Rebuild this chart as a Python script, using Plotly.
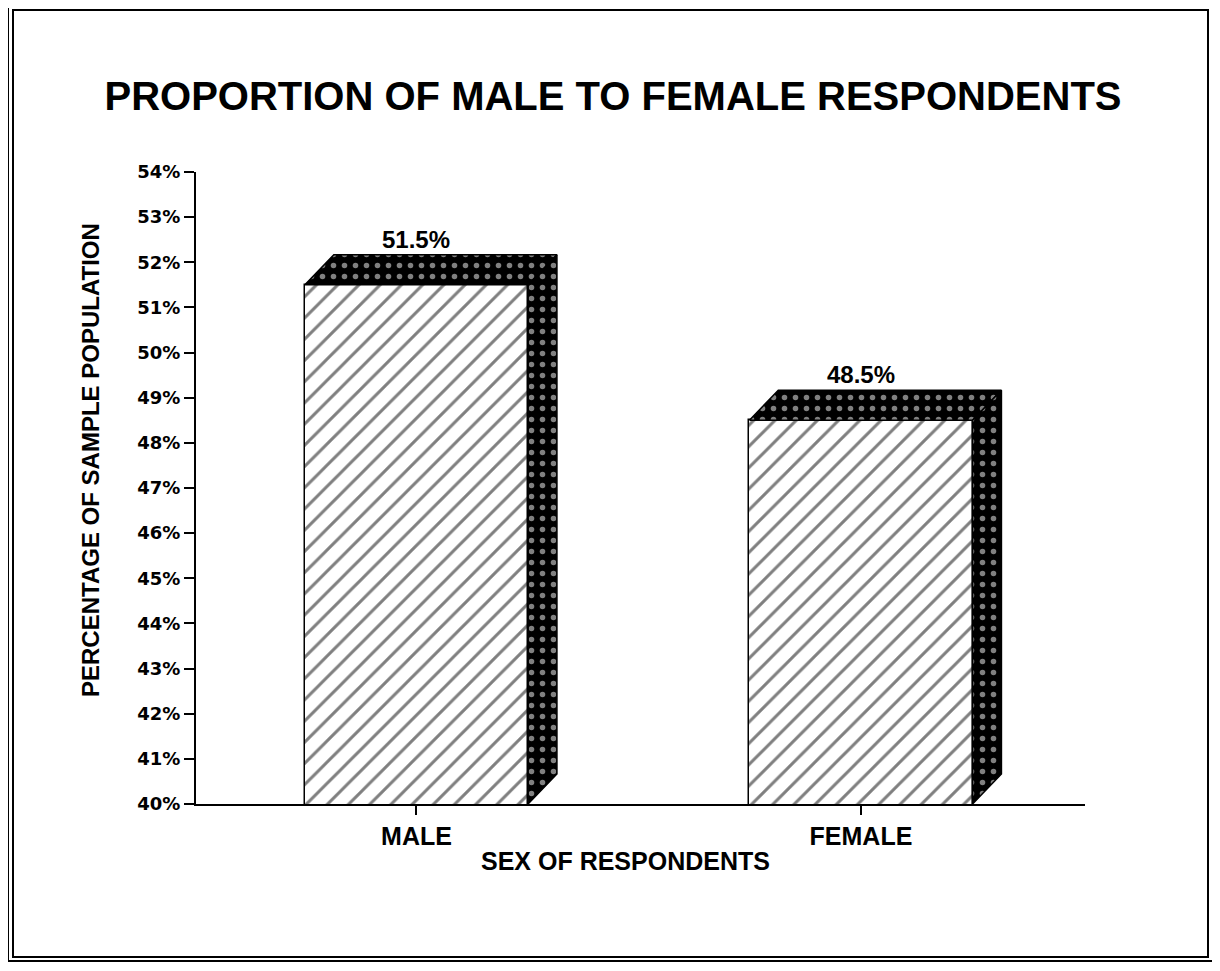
import plotly.graph_objects as go

# ---- data ----
categories = ["MALE", "FEMALE"]
percentages = [51.5, 48.5]
value_labels = ["51.5%", "48.5%"]
tick_values = list(range(40, 55))
tick_labels = [f"{v}%" for v in tick_values]

# ---- layout constants (reference pixels) ----
OFF = 8                      # page body margin offset
W, H = 1220 - OFF, 971 - OFF
L, R, T, B = 196, 1085, 172, 804
Y_MIN, Y_MAX = 40, 54
X_RANGE = [-0.496, 1.504]
BAR_W = 0.502
DX = 0.065   # depth in x units
DY = 0.665   # depth in y units

FONT = "Liberation Sans"

xpos = list(range(len(categories)))

fig = go.Figure()

# front faces (hatched)
fig.add_trace(go.Bar(
    x=xpos, y=percentages, width=BAR_W,
    marker=dict(color="white", line=dict(color="black", width=1.5),
                pattern=dict(shape="/", fgcolor="black", bgcolor="white",
                             size=15, solidity=0.2)),
    hoverinfo="skip", showlegend=False,
))

# top and side faces (dotted dark)
for xc, v in zip(xpos, percentages):
    x0, x1 = xc - BAR_W / 2, xc + BAR_W / 2
    top_x = [x0, x0 + DX, x1 + DX, x1, x0]
    top_y = [v, v + DY, v + DY, v, v]
    side_x = [x1, x1 + DX, x1 + DX, x1, x1]
    side_y = [Y_MIN, Y_MIN + DY, v + DY, v, Y_MIN]
    for px, py in ((top_x, top_y), (side_x, side_y)):
        fig.add_trace(go.Scatter(
            x=px, y=py, mode="lines", fill="toself",
            fillcolor="black",
            fillpattern=dict(shape=".", fgcolor="white", bgcolor="black",
                             size=11, solidity=0.2),
            line=dict(color="black", width=1.5),
            hoverinfo="skip", showlegend=False,
        ))

# value labels
for xc, v, lab in zip(xpos, percentages, value_labels):
    fig.add_annotation(x=xc, y=v + DY, text=f"<b>{lab}</b>", showarrow=False,
                       yanchor="bottom", yshift=0,
                       font=dict(family=FONT, size=24, color="black"))


def px_x(p):
    return (p - L) / (R - L)


def px_y(p):
    return (B - p) / (B - T)


# double border
for (a, b, c, d) in ((8, 5, 1213, 961), (13, 10, 1208, 957)):
    fig.add_shape(type="rect", xref="paper", yref="paper",
                  x0=px_x(a), x1=px_x(c), y0=px_y(d), y1=px_y(b),
                  line=dict(color="black", width=2), layer="below")

# axis titles as annotations for exact placement
fig.add_annotation(xref="paper", yref="paper", x=px_x(90), y=px_y(460),
                   text="<b>PERCENTAGE OF SAMPLE POPULATION</b>",
                   textangle=-90, showarrow=False,
                   xanchor="center", yanchor="middle",
                   font=dict(family=FONT, size=24, color="black"))
fig.add_annotation(xref="paper", yref="paper", x=px_x(625), y=px_y(861),
                   text="<b>SEX OF RESPONDENTS</b>", showarrow=False,
                   xanchor="center", yanchor="middle",
                   font=dict(family=FONT, size=25, color="black"))

fig.update_layout(
    width=W, height=H,
    margin=dict(l=L - OFF, r=W - (R - OFF), t=T - OFF, b=H - (B - OFF)),
    paper_bgcolor="white", plot_bgcolor="white",
    title=dict(text="<b>PROPORTION OF MALE TO FEMALE RESPONDENTS</b>",
               x=(613 - OFF) / W, xanchor="center",
               y=1 - (96 - OFF) / H, yanchor="middle",
               font=dict(family=FONT, size=40, color="black")),
    font=dict(family=FONT, color="black"),
    xaxis=dict(range=X_RANGE, tickmode="array", tickvals=xpos,
               ticktext=[f"<b>{c}</b>" for c in categories],
               tickfont=dict(size=25), showgrid=False, zeroline=False,
               showline=True, linecolor="black", linewidth=2,
               ticks="outside", ticklen=9, tickwidth=1.5, tickcolor="black"),
    yaxis=dict(range=[Y_MIN, Y_MAX], tickmode="array", tickvals=tick_values,
               ticktext=[f"<b>{t}</b>" for t in tick_labels],
               tickfont=dict(family="DejaVu Sans", size=18),
               showgrid=False, zeroline=False,
               showline=True, linecolor="black", linewidth=2,
               ticks="outside", ticklen=10, tickwidth=1.5, tickcolor="black"),
    bargap=0,
)

fig.write_html("out.html")
